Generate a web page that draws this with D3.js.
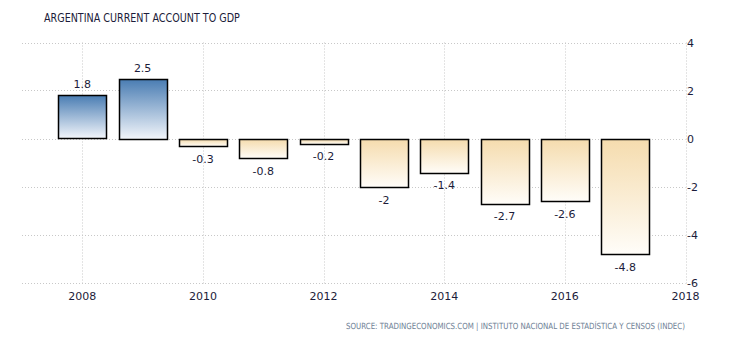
<!DOCTYPE html>
<html><head><meta charset="utf-8">
<script src="https://cdn.jsdelivr.net/npm/d3@7"></script>
<style>body{margin:0;background:#fff;} svg{display:block;}</style>
</head><body>
<svg id="c" width="730" height="340"></svg>
<script>
const years = [2008, 2009, 2010, 2011, 2012, 2013, 2014, 2015, 2016, 2017];
const values = [1.8, 2.5, -0.3, -0.8, -0.2, -2, -1.4, -2.7, -2.6, -4.8];
const labels = ["1.8", "2.5", "-0.3", "-0.8", "-0.2", "-2", "-1.4", "-2.7", "-2.6", "-4.8"];
const yTicks = [4, 2, 0, -2, -4, -6];
const xTicks = [2008, 2010, 2012, 2014, 2016, 2018];
const title = "ARGENTINA CURRENT ACCOUNT TO GDP";
const source = "SOURCE: TRADINGECONOMICS.COM | INSTITUTO NACIONAL DE ESTADÍSTICA Y CENSOS (INDEC)";

(function () {
const svg = d3.select("#c");
const font = "Tahoma, 'DejaVu Sans', Verdana, sans-serif";
const pLeft = 22, pRight = 685.5, pTop = 42.5, pBottom = 282.5;

const x = d3.scaleLinear().domain([2007, 2018]).range([pLeft, pRight]);
const y = d3.scaleLinear().domain([-6, 4]).range([pBottom, pTop]);
const bw = 48;

const defs = svg.append("defs");
const gp = defs.append("linearGradient").attr("id", "gpos").attr("x1", 0).attr("y1", 0).attr("x2", 0).attr("y2", 1);
gp.append("stop").attr("offset", "0%").attr("stop-color", "#4a7db3");
gp.append("stop").attr("offset", "100%").attr("stop-color", "#f3f6fb");
const gn = defs.append("linearGradient").attr("id", "gneg").attr("x1", 0).attr("y1", 0).attr("x2", 0).attr("y2", 1);
gn.append("stop").attr("offset", "0%").attr("stop-color", "#f5dcae");
gn.append("stop").attr("offset", "100%").attr("stop-color", "#fffdf9");

const grid = svg.append("g").attr("stroke", "#c8c8c8").attr("stroke-dasharray", "1,2").attr("stroke-width", 1);
grid.selectAll("line.h").data(yTicks).join("line")
  .attr("x1", pLeft).attr("x2", pRight)
  .attr("y1", d => Math.round(y(d)) + 0.5).attr("y2", d => Math.round(y(d)) + 0.5);
grid.selectAll("line.v").data(xTicks).join("line")
  .attr("x1", d => Math.round(x(d)) + 0.5).attr("x2", d => Math.round(x(d)) + 0.5)
  .attr("y1", pTop).attr("y2", pBottom + 3);

svg.append("g").selectAll("text").data(yTicks).join("text")
  .attr("x", pRight + 1.5).attr("y", d => y(d) + 4)
  .attr("font-family", font).attr("font-size", 11).attr("fill", "#1c1c3a")
  .text(d => d);

svg.append("g").selectAll("text").data(xTicks).join("text")
  .attr("x", d => x(d)).attr("y", 300)
  .attr("text-anchor", "middle")
  .attr("font-family", font).attr("font-size", 11).attr("fill", "#1c1c3a")
  .text(d => d);

svg.append("g").selectAll("rect").data(values).join("rect")
  .attr("x", (d, i) => Math.round(x(years[i]) - bw / 2) + 0.5)
  .attr("y", d => Math.round(y(Math.max(0, d))) + 0.5)
  .attr("width", bw)
  .attr("height", d => Math.round(Math.abs(y(d) - y(0))))
  .attr("fill", d => d >= 0 ? "url(#gpos)" : "url(#gneg)")
  .attr("stroke", "#000").attr("stroke-width", 1.5);

svg.append("g").selectAll("text").data(values).join("text")
  .attr("x", (d, i) => x(years[i]))
  .attr("y", d => d >= 0 ? y(d) - 7 : y(d) + 17)
  .attr("text-anchor", "middle")
  .attr("font-family", font).attr("font-size", 11).attr("fill", "#1c1c3a")
  .text((d, i) => labels[i]);

function fitText(gx, gy, anchor, size, color, width, str) {
  const g = svg.append("g");
  const t = g.append("text").attr("x", 0).attr("y", 0).attr("text-anchor", anchor)
    .attr("font-family", font).attr("font-size", size).attr("fill", color).text(str);
  const len = t.node().getComputedTextLength();
  const s = len > 0 ? width / len : 1;
  g.attr("transform", `translate(${gx},${gy}) scale(${s},1)`);
}
fitText(44, 22, "start", 11.5, "#1c1c3a", 196, title);
fitText(685, 329, "end", 8.5, "#6e7f95", 340, source);
})();
</script>
</body></html>
